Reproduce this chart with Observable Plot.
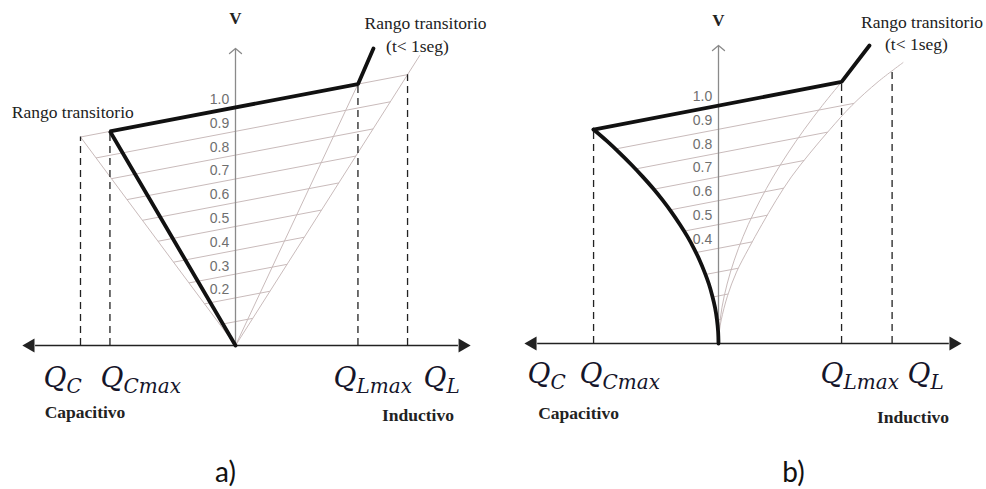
<!DOCTYPE html>
<html>
<head>
<meta charset="utf-8">
<script src="https://cdn.jsdelivr.net/npm/d3@7"></script>
<script src="https://cdn.jsdelivr.net/npm/@observablehq/plot@0.6"></script>
<style>
  html, body { margin: 0; padding: 0; background: #fff; }
  #wrap { display: flex; width: 986px; height: 489px; overflow: hidden; }
  #wrap svg { display: block; flex: none; }
</style>
</head>
<body>
<div id="wrap"></div>
<script>
// ---- Shared values (per-unit reactive power Q, per-unit voltage V) ----
const voltageTicks = [1.0, 0.9, 0.8, 0.7, 0.6, 0.5, 0.4, 0.3, 0.2];
const voltageTickText = ["1.0", "0.9", "0.8", "0.7", "0.6", "0.5", "0.4", "0.3", "0.2"];
const voltageTicksB = [1.0, 0.9, 0.8, 0.7, 0.6, 0.5, 0.4];
const voltageTickTextB = ["1.0", "0.9", "0.8", "0.7", "0.6", "0.5", "0.4"];

// ---- a) linear characteristic ----
const limitNamesA = ["QC", "QCmax", "QLmax", "QL"];
const limitQA = [-1.00, -0.81, 0.79, 1.11];
const limitTopVA = [0.876, 0.90, 1.098, 1.138];

// operating characteristic (thick): origin -> QCmax -> QLmax -> transient
const operQA = [0, -0.81, 0.79, 0.89];
const operVA = [0, 0.90, 1.098, 1.248];

// constant-susceptance lines from the origin (end points)
const rayQA = [-1.00, 0.79, 1.19];
const rayVA = [0.876, 1.098, 1.22];

// sloped reference lines V = Vref + k·Q (ends on outer rays)
const chordRefA = [1.0, 0.9, 0.8, 0.7, 0.6, 0.5, 0.4, 0.3, 0.2, 0.1];
const chordQ1A = [-1.00, -0.90, -0.80, -0.70, -0.60, -0.50, -0.40, -0.30, -0.20, -0.10];
const chordV1A = [0.876, 0.788, 0.701, 0.613, 0.526, 0.438, 0.350, 0.263, 0.175, 0.088];
const chordQ2A = [1.11, 0.999, 0.888, 0.777, 0.666, 0.555, 0.444, 0.333, 0.222, 0.111];
const chordV2A = [1.138, 1.024, 0.910, 0.796, 0.683, 0.569, 0.455, 0.341, 0.228, 0.114];

// ---- b) quadratic characteristic ----
const limitNamesB = ["QC", "QCmax", "QLmax", "QL"];
const limitQB = [-1.00, -0.806, 0.794, 1.12];
const limitTopVB = [null, 0.899, 1.099, 1.141];

// capacitive branch at maximum susceptance (thick curve)
const capVB = [0, 0.05, 0.1, 0.15, 0.2, 0.25, 0.3, 0.35, 0.4, 0.45, 0.5, 0.55, 0.6, 0.65, 0.7, 0.75, 0.8, 0.85, 0.899];
const capQB = [0, -0.0025, -0.010, -0.022, -0.040, -0.062, -0.090, -0.122, -0.159, -0.201, -0.249, -0.301, -0.358, -0.420, -0.488, -0.560, -0.637, -0.719, -0.806];

// thick straight part: QCmax -> QLmax -> transient
const operQB = [-0.806, 0.794, 0.974];
const operVB = [0.899, 1.099, 1.252];

// inductive branches (thin curves)
const indVB = [0, 0.1, 0.2, 0.3, 0.4, 0.5, 0.6, 0.7, 0.8, 0.9, 1.0, 1.099];
const indQB = [0, 0.0106, 0.037, 0.077, 0.129, 0.192, 0.267, 0.352, 0.448, 0.554, 0.670, 0.794];
const outVB = [0, 0.05, 0.1, 0.2, 0.3, 0.4, 0.5, 0.6, 0.7, 0.8, 0.9, 1.0, 1.1, 1.18];
const outQB = [0, 0.0055, 0.018, 0.058, 0.116, 0.195, 0.280, 0.370, 0.470, 0.590, 0.720, 0.860, 1.030, 1.190];

// sloped reference lines between the capacitive and outer inductive branches
const chordRefB = [0.9, 0.8, 0.7, 0.6, 0.5, 0.4, 0.3, 0.2, 0.1];
const chordQ1B = [-0.667, -0.537, -0.419, -0.314, -0.223, -0.146, -0.084, -0.038, -0.010];
const chordV1B = [0.817, 0.733, 0.648, 0.561, 0.472, 0.382, 0.290, 0.195, 0.099];
const chordQ2B = [0.874, 0.704, 0.553, 0.423, 0.315, 0.218, 0.126, 0.063, 0.0185];
const chordV2B = [1.009, 0.888, 0.769, 0.653, 0.539, 0.427, 0.316, 0.208, 0.102];

// ---- Styles ----
const thin = "#c9bbbb";
const axisGray = "#8a8a8a";
const ink = "#111";
const FONT_SERIF = "'Liberation Serif', 'Times New Roman', serif";
const FONT_MATH = "'DejaVu Serif', serif";
const FONT_SANS = "'Liberation Sans', Arial, sans-serif";
const FONT_CAPTION = "Lato, 'Open Sans', sans-serif";

const zip = (...cols) => cols[0].map((_, i) => cols.map(c => c[i]));
const label = (text, x, y, opts) => Plot.text([text], {x, y, text: d => d, fill: "#222", fontSize: 17.5, ...opts});

function qLabels(names, anchorsQ, baseV) {
  const rows = names.map((n, i) => ({q: anchorsQ[i], v: baseV, main: "Q", sub: n.slice(1)}));
  return [
    Plot.text(rows, {x: "q", y: "v", text: "main", textAnchor: "start", lineAnchor: "bottom",
      fontSize: 28, fontStyle: "italic", fill: "#15152a"}),
    Plot.text(rows, {x: "q", y: "v", text: "sub", textAnchor: "start", lineAnchor: "bottom",
      dx: 23, dy: 6, fontSize: 20, fontStyle: "italic", fill: "#15152a"})
  ];
}

function horizontalAxis(qLeft, qRight) {
  const ends = [{q: qLeft, r: -90}, {q: qRight, r: 90}];
  return [
    Plot.link([[qLeft, qRight]], {x1: d => d[0] + 0.03, x2: d => d[1] - 0.03, y1: 0, y2: 0, stroke: "#222", strokeWidth: 1.4}),
    Plot.dot(ends, {x: "q", y: 0, symbol: "triangle", r: 5.2, rotate: "r", fill: "#222", stroke: "none"})
  ];
}

// assign typefaces by role once the SVG exists
const mathParts = new Set(["Q", "C", "Cmax", "Lmax", "L"]);
const tickParts = new Set([...voltageTickText, ...voltageTickTextB]);
function applyFonts(svg) {
  d3.select(svg).selectAll("text").each(function () {
    const t = this.textContent;
    let f = FONT_SERIF;
    if (mathParts.has(t)) f = FONT_MATH;
    else if (tickParts.has(t)) f = FONT_SANS;
    else if (t === "a)" || t === "b)") f = FONT_CAPTION;
    this.style.fontFamily = f;
  });
  return svg;
}

// ---------- Panel a ----------
const chordsA = zip(chordRefA, chordQ1A, chordV1A, chordQ2A, chordV2A).map(([r, q1, v1, q2, v2]) => ({r, q1, v1, q2, v2}));
const raysA = zip(rayQA, rayVA).map(([q, v]) => ({q, v}));
const operA = zip(operQA, operVA).map(([q, v]) => ({q, v}));
const limitsA = zip(limitNamesA, limitQA, limitTopVA).map(([n, q, v]) => ({n, q, v}));
const ticksA = zip(voltageTicks, voltageTickText).map(([v, t]) => ({v, t}));

const plotA = Plot.plot({
  width: 493, height: 489,
  margin: 0,
  style: {background: "#fff", overflow: "visible"},
  x: {domain: [-1, 1], range: [80, 390], axis: null},
  y: {domain: [0, 1], range: [345, 107], axis: null},
  marks: [
    Plot.link(chordsA, {x1: "q1", y1: "v1", x2: "q2", y2: "v2", stroke: thin, strokeWidth: 1}),
    Plot.link(raysA, {x1: 0, y1: 0, x2: "q", y2: "v", stroke: thin, strokeWidth: 1}),
    Plot.arrow([0], {x1: 0, y1: 0, x2: 0, y2: 1.248, stroke: axisGray, strokeWidth: 1.3, headLength: 9, headAngle: 100}),
    Plot.ruleX(limitsA, {x: "q", y1: 0, y2: "v", stroke: "#222", strokeWidth: 1.3, strokeDasharray: "7,5"}),
    ...horizontalAxis(-1.323, 1.465),
    Plot.line(operA, {x: "q", y: "v", stroke: ink, strokeWidth: 3.8, strokeLinejoin: "miter"}),
    Plot.text(ticksA, {x: -0.04, y: "v", text: "t", dy: -8, textAnchor: "end", fontSize: 14, fill: "#6f6f6f"}),
    label("V", 0, 1.374, {fontSize: 17, fontWeight: "bold"}),
    label("Rango transitorio", -1.05, 0.979),
    label("Rango transitorio", 1.226, 1.353),
    label("(t< 1seg)", 1.174, 1.256),
    ...qLabels(limitNamesA, [-1.239, -0.871, 0.632, 1.213], -0.176),
    label("Capacitivo", -0.971, -0.282, {fontWeight: "bold", fontSize: 17.5}),
    label("Inductivo", 1.177, -0.294, {fontWeight: "bold", fontSize: 17.5}),
    label("a)", -0.065, -0.534, {fontSize: 28, fill: "#111"})
  ]
});

// ---------- Panel b ----------
const chordsB = zip(chordRefB, chordQ1B, chordV1B, chordQ2B, chordV2B).map(([r, q1, v1, q2, v2]) => ({r, q1, v1, q2, v2}));
const capB = zip(capQB, capVB).map(([q, v]) => ({q, v}));
const operB = zip(operQB, operVB).map(([q, v]) => ({q, v}));
const indB = zip(indQB, indVB).map(([q, v]) => ({q, v}));
const outB = zip(outQB, outVB).map(([q, v]) => ({q, v}));
const limitsB = zip(limitNamesB, limitQB, limitTopVB).map(([n, q, v]) => ({n, q, v})).filter(d => d.v != null);
const ticksB = zip(voltageTicksB, voltageTickTextB).map(([v, t]) => ({v, t}));

const plotB = Plot.plot({
  width: 493, height: 489,
  margin: 0,
  style: {background: "#fff", overflow: "visible"},
  x: {domain: [-1, 1], range: [70, 380], axis: null},
  y: {domain: [0, 1], range: [343, 105], axis: null},
  marks: [
    Plot.link(chordsB, {x1: "q1", y1: "v1", x2: "q2", y2: "v2", stroke: thin, strokeWidth: 1}),
    Plot.line(indB, {x: "q", y: "v", curve: "catmull-rom", stroke: thin, strokeWidth: 1}),
    Plot.line(outB, {x: "q", y: "v", curve: "catmull-rom", stroke: thin, strokeWidth: 1}),
    Plot.arrow([0], {x1: 0, y1: 0, x2: 0, y2: 1.252, stroke: axisGray, strokeWidth: 1.3, headLength: 9, headAngle: 100}),
    Plot.ruleX(limitsB, {x: "q", y1: 0, y2: "v", stroke: "#222", strokeWidth: 1.3, strokeDasharray: "7,5"}),
    ...horizontalAxis(-1.2, 1.516),
    Plot.line(capB, {x: "q", y: "v", curve: "catmull-rom", stroke: ink, strokeWidth: 3.8}),
    Plot.line(operB, {x: "q", y: "v", stroke: ink, strokeWidth: 3.8, strokeLinejoin: "miter"}),
    Plot.text(ticksB, {x: -0.04, y: "v", text: "t", dy: -9, textAnchor: "end", fontSize: 14, fill: "#6f6f6f"}),
    label("V", 0, 1.357, {fontSize: 17, fontWeight: "bold"}),
    label("Rango transitorio", 1.313, 1.349),
    label("(t< 1seg)", 1.277, 1.256),
    ...qLabels(limitNamesB, [-1.232, -0.897, 0.658, 1.219], -0.168),
    label("Capacitivo", -0.903, -0.294, {fontWeight: "bold", fontSize: 17.5}),
    label("Inductivo", 1.255, -0.311, {fontWeight: "bold", fontSize: 17.5}),
    label("b)", 0.484, -0.546, {fontSize: 28, fill: "#111"})
  ]
});

document.getElementById("wrap").append(applyFonts(plotA), applyFonts(plotB));
</script>
</body>
</html>
